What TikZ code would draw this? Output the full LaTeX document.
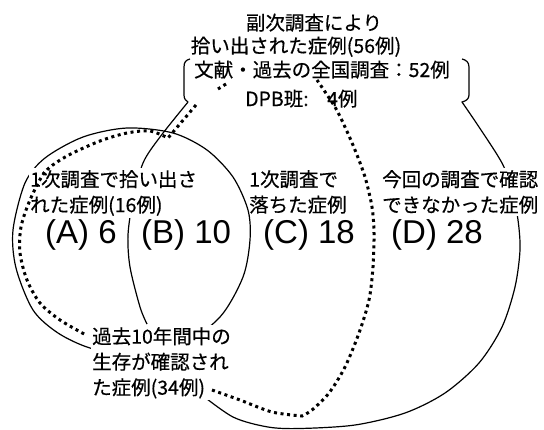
\documentclass[tikz,border=0pt]{standalone}
\usepackage{fontspec}
\setmainfont{Liberation Sans}
\newfontfamily\jp[FakeBold=0.5]{Noto Sans CJK JP}
\begin{document}
\begin{tikzpicture}[x=1pt,y=-1pt,
  curve/.style={line width=1.2pt, line join=round},
  dotline/.style={line width=3pt, dash pattern=on 3pt off 3.6pt},
  jlab/.style={font=\jp\fontsize{19.5}{25.5}\selectfont, inner sep=0pt},
  mask/.style={fill=white, inner xsep=1pt, inner ysep=2pt, align=left},
  big/.style={font=\fontsize{33}{36}\selectfont, inner sep=0pt, anchor=base west}
]
\useasboundingbox (0,0) rectangle (544,429);
% left circle: 1次調査で拾い出された症例
\draw[curve] plot[smooth cycle] coordinates {(127,128) (173,133) (207,150) (233,177) (248,210) (250,240) (243,277) (220,317) (180,346) (131,355) (90,348) (58,333) (33,310) (16,268) (13,230) (25,183) (45,158) (83,137)};
% left brace + left boundary of the 56 cases
\draw[curve] (190,59) .. controls (186,60) and (184,62) .. (184,67) -- (184,95)
  .. controls (184,99) and (186,101) .. (188,102)
  -- plot[smooth] coordinates {(188,102) (160,137) (143,163) (133,200) (128,235) (130,267) (140,307) (147,324)};
% right brace + right/bottom boundary of the 56 cases
\draw[curve] (462,59) .. controls (466,60) and (469,62) .. (469,67) -- (469,95)
  .. controls (469,99) and (466,101) .. (462,102)
  -- plot[smooth] coordinates {(462,102) (479,127) (502,163) (512,190) (518,220) (520,250) (515,287) (502,327) (479,363) (445,393) (405,413) (355,425) (300,428.5) (268,427) (233,417) (198,392)};
% top texts
\node[jlab, anchor=base] (t1) at (314,30) {副次調査により};
\node[jlab, anchor=base] (t2) at (296,53) {拾い出された症例(56例)};
\node[jlab, anchor=base] (t3) at (322,77) {文献・過去の全国調査：52例};
\node[jlab, anchor=base west] (t4) at (245,106) {DPB班:};
\node[jlab, anchor=base west] (t5) at (327,106) {4例};
% labels
\node[jlab, mask, anchor=north west] (l16) at (29,168) {1次調査で拾い出さ\\れた症例(16例)};
\node[jlab, align=left, anchor=north west] (lc) at (249,170) {1次調査で\\落ちた症例};
\node[jlab, mask, anchor=north west] (ld) at (381,168) {今回の調査で確認\\できなかった症例};
\node[jlab, mask, anchor=north west] (l34) at (91,325) {過去10年間中の\\生存が確認され\\た症例(34例)};
\node[big] (a) at (45,243) {(A) 6};
\node[big] (b) at (141,243) {(B) 10};
\node[big] (c) at (263,243) {(C) 18};
\node[big] (d) at (391,243) {(D) 28};
% dotted boundary
\draw[dotline] (226,84) -- (218,89);
\draw[dotline] (196,105) -- plot[smooth] coordinates {(168,138) (150,131) (127,133) (100,141) (67,156) (45,172) (30,200) (21,227) (20,253) (27,280) (40,303) (60,320) (86,335)};
\draw[dotline] plot[smooth] coordinates {(212,390) (240,400) (272,412) (302,416)}
  -- plot[smooth] coordinates {(302,416) (312,410) (329,393) (345,367) (359,333) (369,300) (373,267) (374,233) (372,207) (365,177) (355,150) (345,127) (335,107) (317,80)};
\end{tikzpicture}
\end{document}
